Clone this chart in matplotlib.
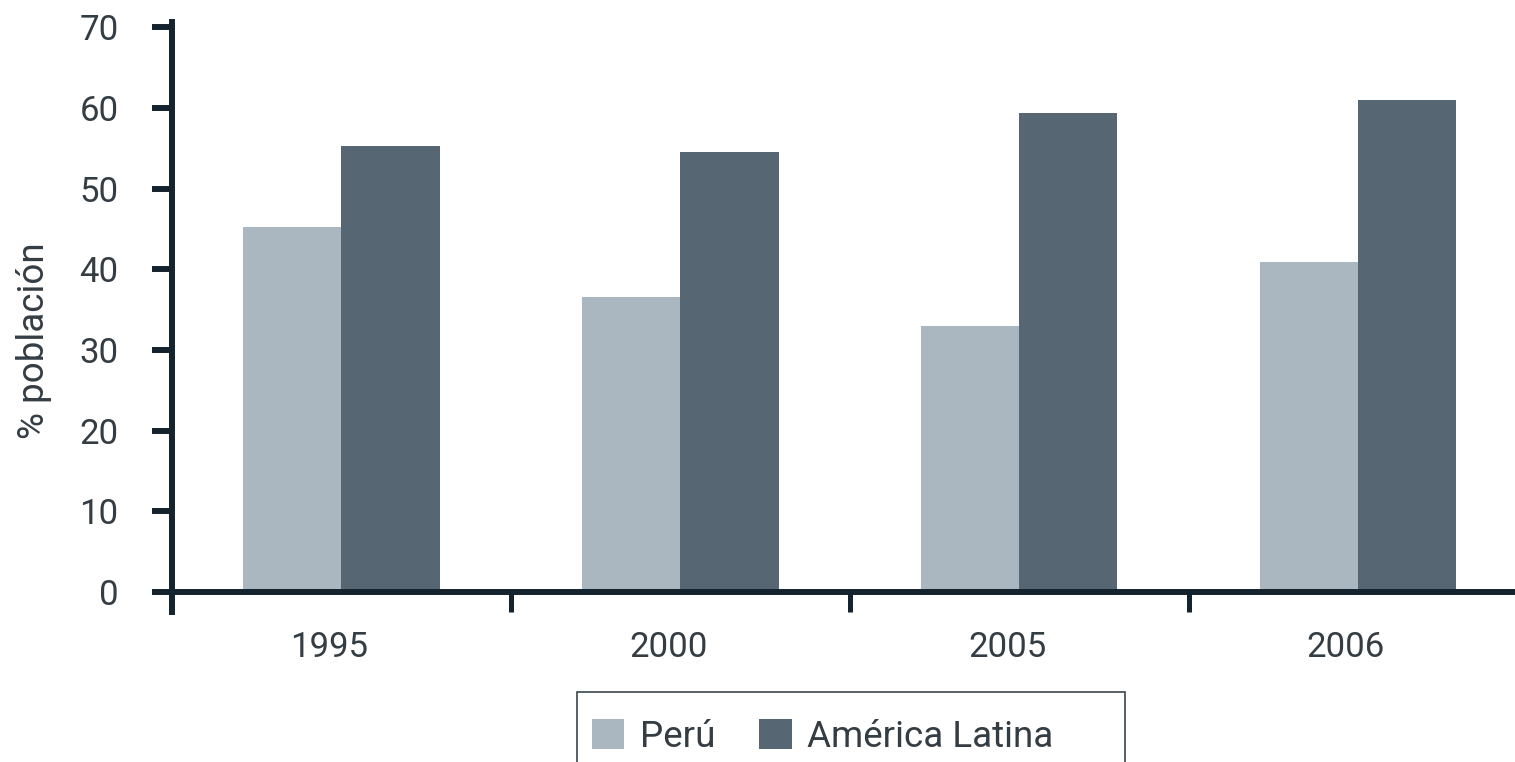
import numpy as np
import matplotlib
matplotlib.use("Agg")
import matplotlib.pyplot as plt
from matplotlib.patches import Rectangle

# datos
anios = ["1995", "2000", "2005", "2006"]
peru = [45.2, 36.6, 33.0, 40.9]
america_latina = [55.3, 54.5, 59.4, 61.0]
yticks = [0, 10, 20, 30, 40, 50, 60, 70]

c_peru = "#abb7c0"
c_al = "#566773"
c_eje = "#14232e"
c_txt = "#353d44"

plt.rcParams["font.family"] = ["Roboto", "DejaVu Sans"]

fig = plt.figure(figsize=(15.15, 7.62), dpi=100)
ax = fig.add_axes([172 / 1515, 0.1966, 1 - 172 / 1515, 0.7741])

x = np.arange(len(anios))
w = 0.29
b1 = ax.bar(x - w / 2, peru, w, color=c_peru, label="Perú", linewidth=0)
b2 = ax.bar(x + w / 2, america_latina, w, color=c_al, label="América Latina", linewidth=0)

ax.set_xlim(-0.5, 3.463)
ax.set_ylim(-2.5, 70.6)

# ejes
for s in ["top", "right"]:
    ax.spines[s].set_visible(False)
ax.spines["bottom"].set_position(("data", 0))
for s in ["left", "bottom"]:
    ax.spines[s].set_color(c_eje)
    ax.spines[s].set_linewidth(4.3)
ax.spines["bottom"].set_capstyle("butt")

ax.set_yticks(yticks)
ax.tick_params(axis="y", direction="out", length=14.4, width=4.3, color=c_eje,
               pad=24, labelsize=25, labelcolor=c_txt)

# marcas entre grupos, etiquetas de año algo desplazadas a la izquierda
ax.set_xticks([-0.5, 0.5, 1.5, 2.5])
ax.set_xticks(x - 0.036, anios, minor=True)
ax.tick_params(axis="x", which="major", direction="out", length=14.4, width=3.6,
               color=c_eje, labelbottom=False)
ax.tick_params(axis="x", which="minor", length=0, pad=28, labelsize=25, labelcolor=c_txt)

ax.set_ylabel("% población", fontsize=26.5, color=c_txt)
ax.yaxis.set_label_coords(-0.089, 0.461)

# leyenda con recuadro que se corta en el borde inferior
fig.legend(handles=[b1, b2], loc="center", bbox_to_anchor=(0.543, 0.033),
           ncol=2, frameon=False, fontsize=26.5, labelcolor=c_txt,
           handlelength=0.88, handleheight=0.88, handletextpad=0.42,
           columnspacing=1.2, borderpad=0)
fig.patches.append(Rectangle((577 / 1515, -0.05), 548 / 1515, 70 / 762 + 0.05,
                             transform=fig.transFigure, fill=False,
                             edgecolor="#3b464e", linewidth=1.2))

fig.savefig("out.png", dpi=100)
